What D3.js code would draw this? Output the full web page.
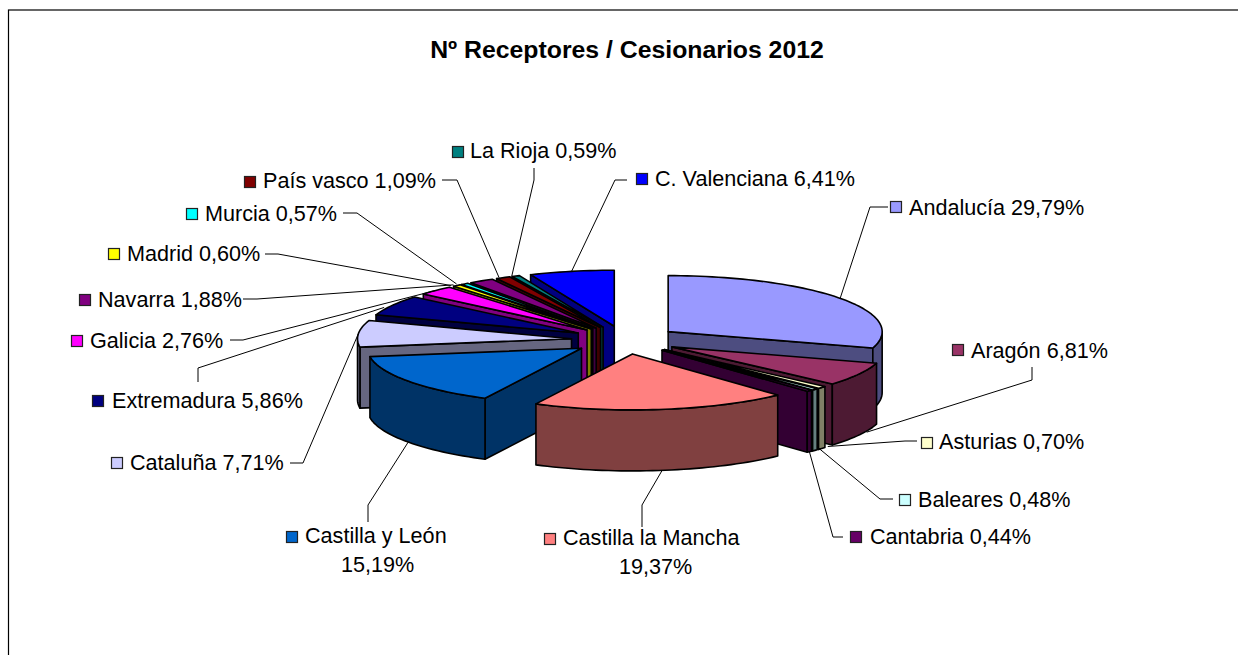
<!DOCTYPE html>
<html>
<head>
<meta charset="utf-8">
<style>
  html, body { margin: 0; padding: 0; background: #fff; overflow: hidden; }
  svg { display: block; }
  text { font-family: "Liberation Sans", Arial, sans-serif; fill: #000; }
</style>
</head>
<body>
<svg width="1238" height="655"></svg>
<script src="https://cdn.jsdelivr.net/npm/d3@7"></script>
<script>
// Data, clockwise from 12 o'clock
const regions = ['Andalucía', 'Aragón', 'Asturias', 'Baleares', 'Cantabria', 'Castilla la Mancha',
  'Castilla y León', 'Cataluña', 'Extremadura', 'Galicia', 'Madrid', 'Murcia', 'Navarra',
  'País vasco', 'La Rioja', 'C. Valenciana'];
const shares = [29.79, 6.81, 0.70, 0.48, 0.44, 19.37, 15.19, 7.71, 5.86, 2.76, 0.60, 0.57, 1.88, 1.09, 0.59, 6.41];
const colours = ['#9999ff', '#993366', '#ffffcc', '#ccffff', '#660066', '#ff8080', '#0066cc', '#ccccff',
  '#000080', '#ff00ff', '#ffff00', '#00ffff', '#800080', '#800000', '#008080', '#0000ff'];
const chartTitle = 'Nº Receptores / Cesionarios 2012';

// Pie geometry
const cx = 625, cy = 340;
const rx = 214, ry = 56, depth = 61;
const explode = 53.7;
const squash = ry / rx;

// Label layout: key x/y, text x, baseline, second line x (wrapped labels)
const labelLayout = {
  'Andalucía':          { kx: 890, ky: 201, tx: 909, ty: 215 },
  'Aragón':             { kx: 952, ky: 344, tx: 971, ty: 358 },
  'Asturias':           { kx: 921, ky: 437, tx: 939, ty: 449 },
  'Baleares':           { kx: 899, ky: 494, tx: 918, ty: 507 },
  'Cantabria':          { kx: 850, ky: 531, tx: 870, ty: 544 },
  'Castilla la Mancha': { kx: 544, ky: 533, tx: 563, ty: 545, tx2: 619, ty2: 574 },
  'Castilla y León':    { kx: 286, ky: 531, tx: 305, ty: 543, tx2: 341, ty2: 572 },
  'Cataluña':           { kx: 111, ky: 457, tx: 130, ty: 470 },
  'Extremadura':        { kx: 92,  ky: 395, tx: 112, ty: 408 },
  'Galicia':            { kx: 71,  ky: 335, tx: 90,  ty: 348 },
  'Madrid':             { kx: 108, ky: 248, tx: 127, ty: 261 },
  'Murcia':             { kx: 186, ky: 208, tx: 205, ty: 221 },
  'Navarra':            { kx: 79,  ky: 294, tx: 98,  ty: 307 },
  'País vasco':         { kx: 244, ky: 176, tx: 263, ty: 188 },
  'La Rioja':           { kx: 452, ky: 146, tx: 470, ty: 158 },
  'C. Valenciana':      { kx: 636, ky: 173, tx: 655, ty: 186 }
};

// Leader lines: fixed points near the label, then they run to the slice rim
// low: ends on the lower rim edge, nudge: small correction of the end point
const leaderLayout = {
  'Andalucía':          { pts: [[888, 207], [870, 207]] },
  'Aragón':             { pts: [[1032, 367], [1032, 380]], low: true, nudge: [8, -3] },
  'Asturias':           { pts: [[917, 441], [905, 441]], low: true, nudge: [6, -2] },
  'Baleares':           { pts: [[893, 499], [880, 499]], low: true, nudge: [4, -2] },
  'Cantabria':          { pts: [[843, 537], [833, 537]], low: true, nudge: [0, 0] },
  'Castilla la Mancha': { pts: [[642, 527], [642, 505]], low: true },
  'Castilla y León':    { pts: [[368, 522], [368, 505]], low: true },
  'Cataluña':           { pts: [[290, 463], [303, 463]] },
  'Extremadura':        { pts: [[198, 382], [198, 368]], nudge: [-8, 2] },
  'Galicia':            { pts: [[230, 340], [243, 340]] },
  'Madrid':             { pts: [[265, 254], [278, 254]], nudge: [-6, 0] },
  'Murcia':             { pts: [[343, 213], [357, 213]], nudge: [-8, 0] },
  'Navarra':            { pts: [[243, 299], [257, 299]], nudge: [-28, 4] },
  'País vasco':         { pts: [[442, 180], [457, 180]], nudge: [-4, 0] },
  'La Rioja':           { pts: [[534, 168], [534, 180]], nudge: [-4, 0] },
  'C. Valenciana':      { pts: [[627, 180], [615, 180]] }
};

const svg = d3.select('svg');

// Frame of the chart area, runs off the picture on the right and bottom
svg.append('rect')
  .attr('x', 8.5).attr('y', 10)
  .attr('width', 1300).attr('height', 700)
  .attr('fill', '#fff').attr('stroke', '#000').attr('stroke-width', 1.2);

svg.append('text')
  .attr('x', 627).attr('y', 58)
  .attr('text-anchor', 'middle')
  .attr('font-size', 24.8).attr('font-weight', 'bold')
  .text(chartTitle);

// The printed percentages add up to 100.25, so lay them out on a 0-100 turn
// and cut the last slice at 12 o'clock
const total = d3.sum(shares);
const pie = d3.pie().sort(null).value((d, i) => shares[i]).endAngle(2 * Math.PI * total / 100);
const arcs = pie(regions);

// x/y of a point on the ellipse at angle t (clockwise from 12 o'clock) for a slice apex
const rim = (apex, t) => [apex[0] + rx * Math.sin(t), apex[1] - ry * Math.cos(t)];
const drop = p => [p[0], p[1] + depth];
const line = d3.line();

arcs.forEach(a => {
  a.endAngle = Math.min(a.endAngle, 2 * Math.PI);
  a.mid = (a.startAngle + a.endAngle) / 2;
  a.apex = [cx + explode * Math.sin(a.mid), cy - explode * squash * Math.cos(a.mid)];
  a.colour = d3.color(colours[a.index]);
  a.dark = d3.rgb(a.colour.r / 2, a.colour.g / 2, a.colour.b / 2);
});

function arcPoints(apex, from, to) {
  const n = Math.max(2, Math.ceil((to - from) / 0.03));
  return d3.range(n + 1).map(i => rim(apex, from + (to - from) * i / n));
}

function drawFace(g, pts, fill) {
  g.append('path')
    .attr('d', line(pts) + 'Z')
    .attr('fill', fill)
    .attr('stroke', '#000')
    .attr('stroke-width', 1.6)
    .attr('stroke-linejoin', 'round');
}

// Back to front: slices further from 6 o'clock are painted first
const order = arcs.slice().sort((p, q) => Math.abs(q.mid - Math.PI) - Math.abs(p.mid - Math.PI));

const pieG = svg.append('g');
order.forEach(a => {
  const g = pieG.append('g');
  const bottomApex = drop(a.apex);

  // cut faces, only those turned to the viewer
  if (Math.sin(a.startAngle) < -1e-6) {
    const p = rim(a.apex, a.startAngle);
    drawFace(g, [a.apex, p, drop(p), bottomApex], a.dark);
  }
  if (Math.sin(a.endAngle) > 1e-6) {
    const p = rim(a.apex, a.endAngle);
    drawFace(g, [a.apex, p, drop(p), bottomApex], a.dark);
  }

  // outer wall, front half of the ellipse only
  const from = Math.max(a.startAngle, Math.PI / 2);
  const to = Math.min(a.endAngle, Math.PI * 1.5);
  if (to > from) {
    const top = arcPoints(a.apex, from, to);
    drawFace(g, top.concat(top.map(drop).reverse()), a.dark);
  }

  // top face
  drawFace(g, [a.apex].concat(arcPoints(a.apex, a.startAngle, a.endAngle)), a.colour.formatHex());
});

// Leader lines
arcs.forEach(a => {
  const l = leaderLayout[a.data];
  let end = rim(a.apex, a.mid);
  if (l.low) end = drop(end);
  if (l.nudge) end = [end[0] + l.nudge[0], end[1] + l.nudge[1]];
  svg.append('path')
    .attr('d', line(l.pts.concat([end])))
    .attr('fill', 'none')
    .attr('stroke', '#000')
    .attr('stroke-width', 1);
});

// Labels and their colour keys
const fontSize = 21.6;
const fmt = v => v.toFixed(2).replace('.', ',') + '%';
arcs.forEach(a => {
  const p = labelLayout[a.data];
  svg.append('rect')
    .attr('x', p.kx + 0.5).attr('y', p.ky + 0.5)
    .attr('width', 11).attr('height', 11)
    .attr('fill', colours[a.index])
    .attr('stroke', '#222').attr('stroke-width', 1.2);
  if (p.tx2 !== undefined) {
    svg.append('text').attr('x', p.tx).attr('y', p.ty).attr('font-size', fontSize).text(a.data);
    svg.append('text').attr('x', p.tx2).attr('y', p.ty2).attr('font-size', fontSize).text(fmt(shares[a.index]));
  } else {
    svg.append('text').attr('x', p.tx).attr('y', p.ty).attr('font-size', fontSize)
      .text(a.data + ' ' + fmt(shares[a.index]));
  }
});
</script>
</body>
</html>
